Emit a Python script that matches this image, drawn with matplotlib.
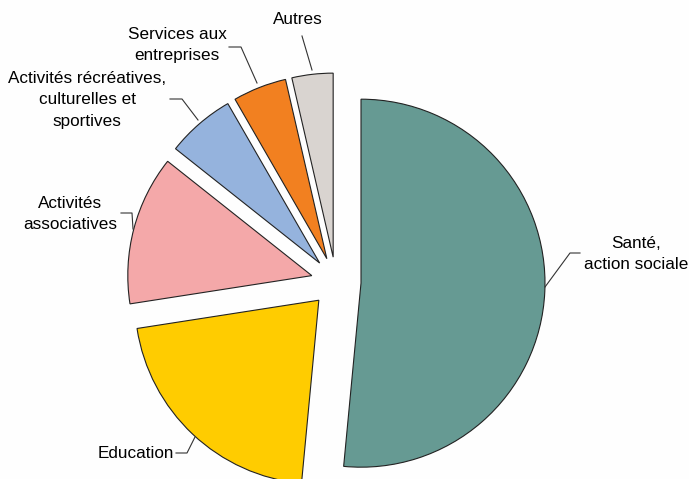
import matplotlib
matplotlib.use("Agg")
import matplotlib.pyplot as plt
import numpy as np

labels = ["Santé,\naction sociale", "Education", "Activités\nassociatives",
          "Activités récréatives,\nculturelles et\nsportives",
          "Services aux\nentreprises", "Autres"]
values = [51.4, 21.0, 13.1, 6.0, 4.7, 3.6]
colors = ["#669A93", "#FFCC00", "#F4A8A9", "#95B3DD", "#F28020", "#D9D4D0"]

plt.rcParams['font.family'] = ['Liberation Sans', 'DejaVu Sans']

W, H = 689, 479
fig = plt.figure(figsize=(W / 100, H / 100), dpi=100)
fig.patch.set_facecolor("#FEFEFE")
ax = fig.add_axes([0, 0, 1, 1])
R = 184.0
cx, cy = 336.0, 282.0

wedges, _ = ax.pie(values, colors=colors, startangle=90, counterclock=False,
                   explode=[0.136] * len(values), radius=1.0,
                   wedgeprops=dict(edgecolor="#222222", linewidth=0.8),
                   frame=True)
ax.set_xlim(-cx / R, (W - cx) / R)
ax.set_ylim(-(H - cy) / R, cy / R)
ax.set_aspect("auto")
ax.axis("off")

def px(x, y):
    return ((x - cx) / R, (cy - y) / R)

# label text positions (pixels) and leader line pixel paths
label_specs = [
    (636, 254, "center", [(545, 287), (570, 253), (580, 253)]),
    (136, 453, "center", [(195, 437), (187, 453), (176, 453)]),
    (70, 214, "center", [(133, 229), (132, 213), (121, 213)]),
    (87, 100, "center", [(198, 120), (182, 99), (170, 99)]),
    (177, 45, "center", [(257, 83), (241, 47), (229, 47)]),
    (298, 20, "center", [(312, 70), (302, 36)]),
]
for lab, (tx, ty, ha, path) in zip(labels, label_specs):
    ax.text(*px(tx, ty), lab, ha=ha, va="center", fontsize=12.3,
            color="#000000", linespacing=1.55)
    xs, ys = zip(*[px(x, y) for x, y in path])
    ax.plot(xs, ys, color="#333333", linewidth=0.8)

fig.savefig("out.png", dpi=100, facecolor=fig.get_facecolor())
